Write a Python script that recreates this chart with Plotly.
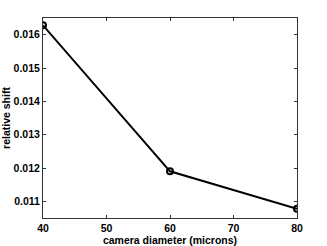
import plotly.graph_objects as go

diameters = [40, 60, 80]
shift = [0.01628, 0.0119, 0.01078]
x_ticks = [40, 50, 60, 70, 80]
y_ticks = [0.011, 0.012, 0.013, 0.014, 0.015, 0.016]

fig = go.Figure()
fig.add_trace(go.Scatter(
    x=diameters, y=shift, mode="lines+markers",
    line=dict(color="black", width=2),
    marker=dict(symbol="circle-open", size=6, color="black", line=dict(width=2)),
    showlegend=False,
))
axis_common = dict(
    showgrid=False, zeroline=False, showline=True, linecolor="#333333", linewidth=1,
    mirror="ticks", ticks="inside", ticklen=3, tickcolor="#333333", automargin=False,
    tickfont=dict(family="Liberation Sans", size=10.5, color="black", weight="bold"),
)
fig.update_xaxes(range=[40, 80], tickvals=x_ticks, ticktext=[str(v) for v in x_ticks],
                 title=dict(text="camera diameter (microns)", standoff=0,
                            font=dict(family="Liberation Sans", size=10.5, color="black", weight="bold")),
                 **axis_common)
fig.update_yaxes(range=[0.0105, 0.0165], tickvals=y_ticks, ticktext=[f"{v:.3f}" for v in y_ticks],
                 title=dict(text="relative shift", standoff=6,
                            font=dict(family="Liberation Sans", size=10.5, color="black", weight="bold")),
                 **axis_common)
fig.update_layout(
    width=327, height=246,
    margin=dict(l=43, r=30, t=18, b=28),
    paper_bgcolor="white", plot_bgcolor="white",
)
fig.write_html("out.html", config={"displayModeBar": False},
               post_script="document.body.style.margin='0';document.body.style.overflow='hidden';")
